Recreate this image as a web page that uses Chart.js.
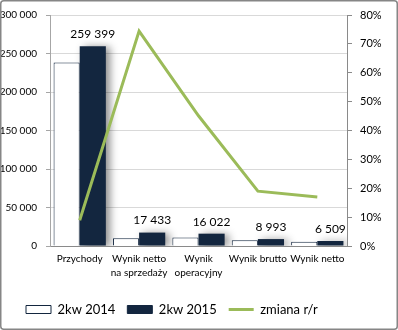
<!DOCTYPE html>
<html><head><meta charset="utf-8">
<script src="https://cdn.jsdelivr.net/npm/chart.js@4"></script>
<style>html,body{margin:0;padding:0;background:#fff}#wrap{width:398px;height:330px;position:relative}</style>
</head><body><div id="wrap"><canvas id="c" width="398" height="330"></canvas></div>
<script>
const categories = [["Przychody"], ["Wynik netto", "na sprzedaży"], ["Wynik", "operacyjny"], ["Wynik brutto"], ["Wynik netto"]];
const values2014 = [238200, 10000, 11000, 7560, 5560];
const values2015 = [259399, 17433, 16022, 8993, 6509];
const changeYoY = [8.9, 74.4, 45.1, 19.0, 17.0];
const leftTicks = [0, 50000, 100000, 150000, 200000, 250000, 300000];
const rightTicks = [0, 10, 20, 30, 40, 50, 60, 70, 80];

const NAVY = '#13263f', GREEN = '#9bbb59', FONT = 'Lato';
const fmt = v => String(Math.round(v)).replace(/\B(?=(\d{3})+(?!\d))/g, ' ');

const framePlugin = {
  id: 'frame',
  beforeDraw(chart) {
    const c = chart.ctx; c.save();
    c.fillStyle = '#fff'; c.fillRect(0, 0, chart.width, chart.height);
    c.restore();
  },
  afterLayout(chart) {
    if (chart.legend) chart.legend.left = 14;
  },
  afterDraw(chart) {
    const c = chart.ctx; c.save();
    c.strokeStyle = '#868686'; c.lineWidth = 1.5;
    c.beginPath(); c.roundRect(0.75, 0.75, chart.width - 1.5, chart.height - 1.5, 3); c.stroke();
    c.restore();
  }
};
const shadowPlugin = {
  id: 'shadow',
  beforeDatasetDraw(chart, args) {
    if (args.index === 1) {
      const c = chart.ctx; c.save();
      c.shadowColor = 'rgba(0,0,0,0.45)'; c.shadowBlur = 8; c.shadowOffsetX = 4; c.shadowOffsetY = 1;
    }
  },
  afterDatasetDraw(chart, args) {
    if (args.index === 1) chart.ctx.restore();
  }
};
const labelPlugin = {
  id: 'vlabels',
  afterDatasetsDraw(chart) {
    const meta = chart.getDatasetMeta(1);
    const c = chart.ctx; c.save();
    c.font = '12px ' + FONT; c.fillStyle = '#000'; c.textAlign = 'center'; c.textBaseline = 'bottom';
    meta.data.forEach((el, i) => { c.fillText(fmt(values2015[i]), el.x, el.y - 6); });
    c.restore();
  }
};

new Chart(document.getElementById('c'), {
  data: {
    labels: categories,
    datasets: [
      { type: 'bar', label: '2kw 2014', data: values2014, backgroundColor: '#fff', borderColor: NAVY, borderWidth: 1, yAxisID: 'y', order: 1, categoryPercentage: 0.88, barPercentage: 1.0 },
      { type: 'bar', label: '2kw 2015', data: values2015, backgroundColor: NAVY, borderColor: NAVY, borderWidth: 0, yAxisID: 'y', order: 1, categoryPercentage: 0.88, barPercentage: 1.0 },
      { type: 'line', label: 'zmiana r/r', data: changeYoY, borderColor: GREEN, backgroundColor: GREEN, borderWidth: 3, pointRadius: 0, tension: 0, yAxisID: 'y1', order: 0 }
    ]
  },
  options: {
    responsive: false, animation: false,
    layout: { padding: { top: 10, left: 0, right: 0, bottom: 4 } },
    plugins: {
      tooltip: { enabled: false },
      legend: {
        position: 'bottom', align: 'start',
        labels: {
          sort: (a, b) => a.datasetIndex - b.datasetIndex,
          font: { family: FONT, size: 13 }, color: '#000', usePointStyle: true, pointStyleWidth: 25, boxWidth: 25, boxHeight: 8, padding: 12,
          generateLabels(chart) {
            return chart.data.datasets.map((d, i) => ({
              text: d.label, datasetIndex: i,
              pointStyle: d.type === 'line' ? 'line' : 'rect',
              fillStyle: d.type === 'line' ? GREEN : d.backgroundColor,
              strokeStyle: d.type === 'line' ? GREEN : NAVY,
              lineWidth: d.type === 'line' ? 3 : 1,
              hidden: false, fontColor: '#000'
            }));
          }
        }
      }
    },
    scales: {
      x: {
        grid: { display: false, drawTicks: false },
        border: { display: true, color: '#8a8a8a' },
        ticks: { font: { family: FONT, size: 10, lineHeight: 1.4 }, color: '#000', maxRotation: 0, autoSkip: false, padding: 6 },
        afterFit(s) { s.height = 45; }
      },
      y: {
        position: 'left', min: 0, max: 300000,
        afterBuildTicks(s) { s.ticks = leftTicks.map(v => ({ value: v })); },
        ticks: { font: { family: FONT, size: 10 }, color: '#000', padding: 9, callback: v => fmt(v) },
        grid: { color: '#d9d9d9', tickColor: '#a6a6a6', tickLength: 4 },
        border: { color: '#a6a6a6' },
        afterFit(s) { s.width = 50; }
      },
      y1: {
        position: 'right', min: 0, max: 80,
        afterBuildTicks(s) { s.ticks = rightTicks.map(v => ({ value: v })); },
        ticks: { font: { family: FONT, size: 11 }, color: '#000', padding: 8, callback: v => v + '%' },
        grid: { drawOnChartArea: false, tickColor: '#8a8a8a', tickLength: 5 },
        border: { color: '#8a8a8a' },
        afterFit(s) { s.width = 51; }
      }
    }
  },
  plugins: [framePlugin, shadowPlugin, labelPlugin]
});
</script></body></html>
